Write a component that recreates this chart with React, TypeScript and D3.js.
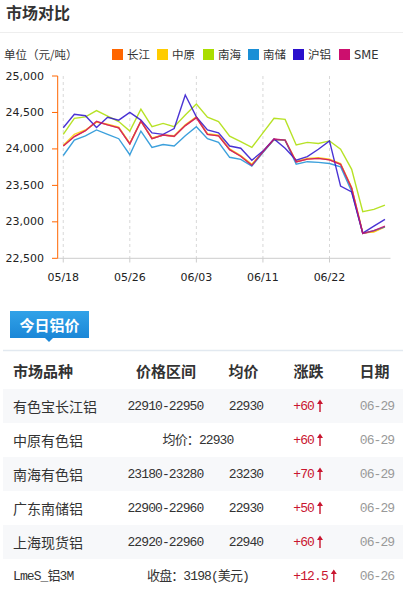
import React from 'react';
import * as d3 from 'd3';

const dates = ['05/18','05/19','05/20','05/21','05/24','05/25','05/26','05/27','05/28','05/31','06/01','06/02','06/03','06/04','06/07','06/08','06/09','06/10','06/11','06/15','06/16','06/17','06/18','06/21','06/22','06/23','06/24','06/25','06/28','06/29'];
const changjiang = [24040,24170,24250,24370,24330,24290,24070,24380,24140,24190,24170,24320,24430,24200,24180,23990,23900,23780,23960,24130,24120,23820,23860,23870,23850,23790,23460,22840,22870,22930];
const zhongyuan = [24050,24200,24260,24370,24340,24300,24080,24380,24150,24190,24180,24330,24440,24210,24190,24000,23910,23790,23960,24130,24120,23830,23870,23880,23860,23800,23470,22850,22860,22930];
const nanhai = [24200,24420,24440,24525,24450,24375,24245,24545,24305,24350,24305,24465,24615,24435,24375,24175,24100,24020,24220,24420,24405,24055,24090,24075,24110,23995,23720,23140,23170,23230];
const nanchu = [23910,24120,24180,24260,24200,24140,23920,24245,24020,24060,24040,24180,24305,24140,24090,23885,23857,23765,23950,24130,24120,23790,23825,23815,23800,23755,23415,22840,22880,22930];
const hulv = [24290,24475,24455,24295,24435,24395,24500,24395,24220,24200,24280,24740,24440,24260,24220,24040,24010,23845,23970,24135,24010,23845,23895,23995,24110,23490,23410,22845,22940,23035];
const sme = [24040,24170,24250,24380,24330,24290,24070,24380,24140,24190,24175,24320,24430,24200,24180,23990,23900,23775,23960,24135,24120,23820,23860,23870,23850,23790,23460,22840,22880,22940];

const seriesNames = ['长江','中原','南海','南储','沪铝','SME'];
const seriesColors = ['#ff6600','#ffcc00','#aadd00','#1a8fd6','#2a0fcc','#cc0f6e'];
const seriesData = [changjiang, zhongyuan, nanhai, nanchu, hulv, sme];
const yTicks = [22500,23000,23500,24000,24500,25000];
const xTickLabels = ['05/18','05/26','06/03','06/11','06/22'];

const headers = ['市场品种','价格区间','均价','涨跌','日期'];
const rowNames = ['有色宝长江铝','中原有色铝','南海有色铝','广东南储铝','上海现货铝','LmeS_铝3M'];
const rowRanges = ['22910-22950','','23180-23280','22900-22960','22920-22960',''];
const rowAvgs = ['22930','','23230','22930','22940',''];
const rowMerged = ['','均价：22930','','','','收盘：3198(美元)'];
const rowChanges = ['+60','+60','+70','+50','+60','+12.5'];
const rowDates = ['06-29','06-29','06-29','06-29','06-29','06-26'];

const CJK = '"Noto Sans CJK SC", "DejaVu Sans", sans-serif';
const MONO = '"Liberation Mono", "Noto Sans CJK SC", monospace';
const AX = '"DejaVu Sans", "Noto Sans CJK SC", sans-serif';

export default function App() {
  const x = d3.scaleBand<string>().domain(dates).range([57.7, 390.5]);
  const cx = (d: string) => (x(d) as number) + x.bandwidth() / 2;
  const y = d3.scaleLinear().domain([22500, 25000]).range([258.3, 76]);
  const line = d3.line<number>().x((_, i) => cx(dates[i])).y(v => y(v));
  const legendX = [112, 157, 203, 248, 293, 339];
  const headerX = [13, 166, 243.5, 308.5, 374.5];
  const rowTop = 389, rowH = 34;
  const red = '#c9152f';
  const monoProps = { fontFamily: MONO, fontSize: 13, letterSpacing: -0.9 };
  return (
    <svg width={403} height={596} style={{ position: 'absolute', left: 0, top: 0, background: '#fff' }}>
      <defs>
        <linearGradient id="tabg" x1="0" y1="0" x2="0" y2="1">
          <stop offset="0" stopColor="#31a2e8" />
          <stop offset="1" stopColor="#1b87d7" />
        </linearGradient>
      </defs>
      <text x={6} y={19} fontFamily={CJK} fontSize={16} fontWeight="bold" fill="#333">市场对比</text>
      <line x1={0} x2={403} y1={32.5} y2={32.5} stroke="#eeeeee" />
      <text x={4} y={54} fontFamily={CJK} fontSize={11.5} fill="#333" dominantBaseline="central">单位（元/吨）</text>
      {seriesNames.map((n, i) => (
        <g key={n}>
          <rect x={legendX[i]} y={49} width={11} height={11} fill={seriesColors[i]} />
          <text x={legendX[i] + 15} y={55} fontFamily={AX} fontSize={11.5} fill="#333" dominantBaseline="central">{n}</text>
        </g>
      ))}
      {xTickLabels.map(l => (
        <line key={'g' + l} x1={cx(l)} x2={cx(l)} y1={76} y2={258.3} stroke="#d8d8d8" strokeDasharray="3,3" />
      ))}
      <line x1={57.7} x2={390.5} y1={258.3} y2={258.3} stroke="#cccccc" />
      {xTickLabels.map(l => (
        <g key={'t' + l}>
          <line x1={cx(l)} x2={cx(l)} y1={258.3} y2={262.5} stroke="#cccccc" />
          <text x={cx(l)} y={277} textAnchor="middle" fontFamily={AX} fontSize={11} fill="#222" dominantBaseline="central">{l}</text>
        </g>
      ))}
      <line x1={57.7} x2={57.7} y1={76} y2={258.3} stroke="#ff6600" />
      {yTicks.map(t => (
        <g key={t}>
          <line x1={52} x2={57.7} y1={y(t)} y2={y(t)} stroke="#ff6600" />
          <text x={44} y={y(t)} textAnchor="end" fontFamily={AX} fontSize={11} fill="#222" dominantBaseline="central">{d3.format(',')(t)}</text>
        </g>
      ))}
      {seriesData.map((s, i) => (
        <path key={seriesNames[i]} d={line(s) as string} fill="none" stroke={seriesColors[i]} strokeWidth={1.4} strokeOpacity={0.85} />
      ))}

      <rect x={10} y={311} width={79} height={27} fill="url(#tabg)" />
      <path d="M45,338 L53,338 L49,342 Z" fill="#1b87d7" />
      <text x={49.5} y={324.5} textAnchor="middle" fontFamily={CJK} fontSize={15} fontWeight="bold" fill="#fff" dominantBaseline="central">今日铝价</text>
      <line x1={3} x2={403} y1={350.5} y2={350.5} stroke="#e2e9f0" strokeWidth={1.5} />
      {headers.map((h, i) => (
        <text key={h} x={headerX[i]} y={370} textAnchor={i === 0 ? 'start' : 'middle'} fontFamily={CJK} fontSize={15} fontWeight="bold" fill="#333" dominantBaseline="central">{h}</text>
      ))}
      {rowNames.map((n, i) => {
        const top = rowTop + i * rowH;
        const cy = top + rowH / 2;
        const chW = rowChanges[i].length * 6.9;
        const ax = 293.3 + chW + 6;
        return (
          <g key={n}>
            {i % 2 === 0 && <rect x={3} y={top} width={400} height={rowH} fill="#f7f8fa" />}
            {i === 5 ? (
              <text x={13} y={cy} {...monoProps} fill="#333" dominantBaseline="central">{n}</text>
            ) : (
              <text x={13} y={cy} fontFamily={CJK} fontSize={14} fill="#333" dominantBaseline="central">{n}</text>
            )}
            {rowMerged[i] ? (
              <text x={198} y={cy} textAnchor="middle" {...monoProps} fill="#333" dominantBaseline="central">{rowMerged[i]}</text>
            ) : (
              <>
                <text x={165.4} y={cy} textAnchor="middle" {...monoProps} fill="#333" dominantBaseline="central">{rowRanges[i]}</text>
                <text x={246} y={cy} textAnchor="middle" {...monoProps} fill="#333" dominantBaseline="central">{rowAvgs[i]}</text>
              </>
            )}
            <text x={293.3} y={cy} {...monoProps} fill={red} dominantBaseline="central">{rowChanges[i]}</text>
            <line x1={ax} x2={ax} y1={cy - 3} y2={cy + 6} stroke={red} strokeWidth={1.4} />
            <path d={`M${ax - 3},${cy - 2} L${ax + 3},${cy - 2} L${ax},${cy - 6.5} Z`} fill={red} />
            <text x={377} y={cy} textAnchor="middle" {...monoProps} fill="#999" dominantBaseline="central">{rowDates[i]}</text>
          </g>
        );
      })}
    </svg>
  );
}
